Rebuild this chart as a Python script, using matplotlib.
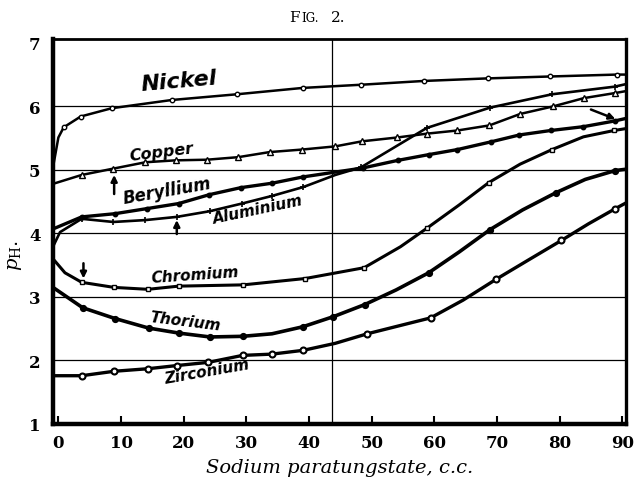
import matplotlib
matplotlib.use('Agg')
import matplotlib.pyplot as plt

plt.rcParams['mathtext.fontset'] = 'dejavuserif'

# values (c.c. of sodium paratungstate, pH)
nickel_x = [-0.86, 0.0, 0.85, 3.56, 8.5, 18.1, 28.5, 39.0, 48.3, 58.4, 68.5, 78.5, 89.1, 90.6]
nickel_y = [5.04, 5.51, 5.67, 5.84, 5.97, 6.10, 6.19, 6.29, 6.34, 6.40, 6.44, 6.47, 6.50, 6.50]
nickel_pts = [2, 3, 4, 5, 6, 7, 8, 9, 10, 11, 12]

copper_x = [-0.86, 3.72, 8.77, 13.9, 18.7, 23.7, 28.7, 33.7, 38.9, 44.2, 48.5, 54.1, 58.8, 63.7,
            68.8, 73.7, 79.0, 83.9, 88.9, 90.6]
copper_y = [4.78, 4.92, 5.02, 5.12, 5.15, 5.16, 5.20, 5.28, 5.32, 5.37, 5.45, 5.51, 5.57, 5.62,
            5.70, 5.88, 6.00, 6.13, 6.21, 6.24]
copper_pts = list(range(1, 19))

beryllium_x = [-0.86, 3.72, 9.0, 14.1, 19.2, 24.1, 29.1, 34.1, 39.1, 48.6, 54.2, 59.1, 63.7,
               69.0, 73.6, 78.6, 83.8, 88.8, 90.6]
beryllium_y = [4.07, 4.26, 4.31, 4.39, 4.47, 4.61, 4.72, 4.79, 4.89, 5.03, 5.15, 5.24, 5.32,
               5.44, 5.55, 5.62, 5.68, 5.77, 5.81]
beryllium_pts = list(range(1, 18))

aluminium_x = [-0.86, 0.26, 3.72, 8.77, 13.9, 18.9, 24.2, 29.3, 34.1, 39.1, 44.2, 48.3, 58.8,
               68.9, 78.8, 88.8, 90.6]
aluminium_y = [3.79, 4.02, 4.23, 4.18, 4.21, 4.26, 4.35, 4.47, 4.59, 4.73, 4.92, 5.04, 5.66,
               5.98, 6.19, 6.31, 6.35]
aluminium_pts = [2, 3, 4, 5, 6, 7, 8, 9, 11, 12, 13, 14, 15]

chromium_x = [-0.86, 1.05, 3.72, 8.9, 14.3, 19.2, 29.5, 39.4, 48.8, 54.6, 58.8, 64.0, 68.7,
              73.7, 78.8, 83.8, 88.7, 90.6]
chromium_y = [3.60, 3.38, 3.23, 3.15, 3.12, 3.17, 3.19, 3.29, 3.46, 3.79, 4.08, 4.45, 4.80,
              5.09, 5.32, 5.52, 5.62, 5.65]
chromium_pts = [2, 3, 4, 5, 6, 7, 8, 10, 12, 14, 16]

thorium_x = [-0.86, 3.88, 9.04, 14.4, 19.3, 24.2, 29.4, 34.1, 39.0, 43.9, 48.9, 53.9, 59.1,
             64.0, 68.9, 74.1, 79.4, 84.1, 88.9, 90.6]
thorium_y = [3.15, 2.83, 2.66, 2.51, 2.43, 2.37, 2.38, 2.42, 2.53, 2.69, 2.88, 3.11, 3.38,
             3.71, 4.06, 4.37, 4.64, 4.85, 4.99, 5.01]
thorium_pts = [1, 2, 3, 4, 5, 6, 8, 9, 10, 12, 14, 16, 18]

zirconium_x = [-0.86, 3.72, 8.9, 14.3, 18.9, 23.9, 29.4, 34.1, 39.1, 44.2, 49.3, 59.4, 64.6,
               69.9, 75.0, 80.3, 84.6, 88.9, 90.6]
zirconium_y = [1.76, 1.76, 1.83, 1.87, 1.92, 1.97, 2.08, 2.10, 2.16, 2.27, 2.42, 2.67, 2.95,
               3.28, 3.58, 3.89, 4.15, 4.39, 4.48]
zirconium_pts = [1, 2, 3, 4, 5, 6, 7, 8, 10, 11, 13, 15, 17]

xticks = [0, 10, 20, 30, 40, 50, 60, 70, 80, 90]
yticks = [1, 2, 3, 4, 5, 6, 7]

fig = plt.figure(figsize=(6.38, 4.81), dpi=100)
ax = fig.add_axes([53 / 638, 1 - 425 / 481, 573 / 638, 385 / 481])
ax.set_xlim(-0.86, 90.6)
ax.set_ylim(1.0, 7.06)

for gy in yticks[1:-1]:
    ax.axhline(gy, color='k', lw=0.9, zorder=1)
ax.axvline(43.7, color='k', lw=0.9, zorder=1)

ax.plot(nickel_x, nickel_y, 'k-', lw=1.8, marker='o', ms=3.2, mfc='white', mew=1.0,
        markevery=nickel_pts)
ax.plot(copper_x, copper_y, 'k-', lw=1.8, marker='^', ms=4.2, mfc='white', mew=1.0,
        markevery=copper_pts)
ax.plot(beryllium_x, beryllium_y, 'k-', lw=2.4, marker='o', ms=3.2, mfc='k',
        markevery=beryllium_pts)
ax.plot(aluminium_x, aluminium_y, 'k-', lw=1.9, marker='+', ms=4.5, mew=1.2,
        markevery=aluminium_pts)
ax.plot(chromium_x, chromium_y, 'k-', lw=2.2, marker='s', ms=3.2, mfc='white', mew=1.0,
        markevery=chromium_pts)
ax.plot(thorium_x, thorium_y, 'k-', lw=2.6, marker='o', ms=4.2, mfc='k',
        markevery=thorium_pts)
ax.plot(zirconium_x, zirconium_y, 'k-', lw=2.4, marker='o', ms=4.3, mfc='white', mew=1.5,
        markevery=zirconium_pts)

lab = dict(family='DejaVu Sans', style='italic', weight='bold', color='k',
           ha='center', va='center')
ax.text(19.3, 6.41, 'Nickel', fontsize=16, rotation=5, **lab)
ax.text(16.5, 5.29, 'Copper', fontsize=11.5, rotation=7, **lab)
ax.text(17.3, 4.67, 'Beryllium', fontsize=12, rotation=10, **lab)
ax.text(31.9, 4.38, 'Aluminium', fontsize=11, rotation=12, **lab)
ax.text(21.8, 3.36, 'Chromium', fontsize=11, rotation=4, **lab)
ax.text(20.2, 2.63, 'Thorium', fontsize=11, rotation=-7, **lab)
ax.text(23.7, 1.84, 'Zirconium', fontsize=11, rotation=10, **lab)

arr = dict(arrowstyle='-|>', color='k', lw=1.8, mutation_scale=9, shrinkA=0, shrinkB=0)
ax.annotate('', xy=(8.9, 4.92), xytext=(8.9, 4.62), arrowprops=arr)
ax.annotate('', xy=(18.9, 4.21), xytext=(18.9, 3.99), arrowprops=arr)
ax.annotate('', xy=(4.0, 3.29), xytext=(4.0, 3.53), arrowprops=arr)
ax.annotate('', xy=(88.9, 5.80), xytext=(85.0, 5.95), arrowprops=arr)

ax.set_xticks(xticks)
ax.set_yticks(yticks)
ax.tick_params(axis='x', direction='in', length=6, width=1.5, pad=7)
ax.tick_params(axis='y', length=0, pad=9)
for t in ax.get_xticklabels() + ax.get_yticklabels():
    t.set_family('DejaVu Serif')
    t.set_weight('bold')
    t.set_fontsize(12)

ax.spines['left'].set_linewidth(3.2)
ax.spines['bottom'].set_linewidth(3.2)
ax.spines['right'].set_linewidth(2.4)
ax.spines['top'].set_linewidth(2.0)

ax.set_xlabel('Sodium paratungstate, c.c.', family='DejaVu Serif', style='italic',
              fontsize=14, labelpad=5)
fig.text(15 / 638, 1 - 255 / 481, r'$p_{\mathrm{H}}$.', rotation=90, fontsize=14,
         ha='center', va='center')

fig.text(289 / 638, 1 - 22 / 481, 'F', family='DejaVu Serif', fontsize=11, ha='left', va='baseline')
fig.text(301 / 638, 1 - 22 / 481, 'IG.', family='DejaVu Serif', fontsize=8.5, ha='left', va='baseline')
fig.text(331 / 638, 1 - 22 / 481, '2.', family='DejaVu Serif', fontsize=11, ha='left', va='baseline')

fig.savefig('out.png', dpi=100)
